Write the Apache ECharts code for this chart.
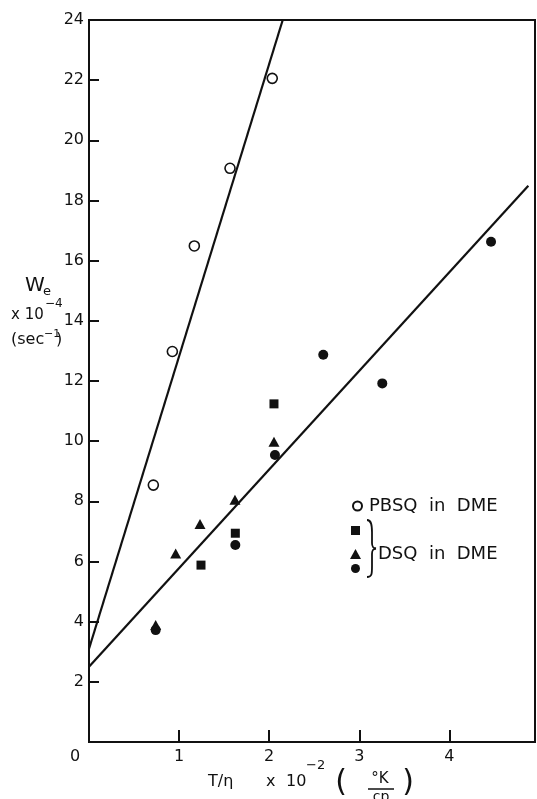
<!DOCTYPE html>
<html><head><meta charset="utf-8">
<script src="https://cdn.jsdelivr.net/npm/echarts@6/dist/echarts.min.js"></script>
<style>html,body{margin:0;padding:0;background:#fff}#c{width:537px;height:799px}</style>
</head><body><div id="c"></div>
<script>
// ---- data ----
const pbsqX = [0.714, 0.925, 1.169, 1.565, 2.034];
const pbsqY = [8.54, 12.98, 16.49, 19.07, 22.06];
const dsqSquareX = [1.243, 1.624, 2.053];
const dsqSquareY = [5.88, 6.94, 11.24];
const dsqTriangleX = [0.740, 0.962, 1.232, 1.620, 2.053];
const dsqTriangleY = [3.89, 6.27, 7.25, 8.05, 9.98];
const dsqCircleX = [0.740, 1.624, 2.064, 2.600, 3.255, 4.462];
const dsqCircleY = [3.72, 6.55, 9.54, 12.87, 11.92, 16.63];
const pbsqFitX = [0, 2.15];
const pbsqFitY = [3.1, 24];
const dsqFitX = [0, 4.876];
const dsqFitY = [2.5, 18.49];
const xTickValues = [0, 1, 2, 3, 4];
const xTickLabels = ['0', '1', '2', '3', '4'];
const yTickValues = [2, 4, 6, 8, 10, 12, 14, 16, 18, 20, 22, 24];
const yTickLabels = ['2', '4', '6', '8', '10', '12', '14', '16', '18', '20', '22', '24'];
const seriesNames = ['PBSQ in DME', 'DSQ in DME \u25A0', 'DSQ in DME', 'DSQ in DME \u25CF'];
const pbsqLegendText = 'PBSQ  in  DME';
const dsqLegendText = 'DSQ  in  DME';

const zip = (xs, ys) => xs.map((x, i) => [x, ys[i]]);
const FONT = '"DejaVu Sans", "Liberation Sans", sans-serif';
const INK = '#111';

function txt(x, y, text, size, align) {
  return {type: 'text', x: x, y: y, silent: true,
    style: {text: text, font: size + 'px ' + FONT, fill: INK,
      align: align || 'left', verticalAlign: 'middle',
      textAlign: align || 'left', textVerticalAlign: 'middle'}};
}
function bez(x1, y1, cx1, cy1, cx2, cy2, x2, y2) {
  return {type: 'bezierCurve', silent: true,
    shape: {x1: x1, y1: y1, cpx1: cx1, cpy1: cy1, cpx2: cx2, cpy2: cy2, x2: x2, y2: y2},
    style: {fill: null, stroke: INK, lineWidth: 1.8}};
}
function seg(x1, y1, x2, y2, w) {
  return {type: 'line', silent: true, shape: {x1: x1, y1: y1, x2: x2, y2: y2},
    style: {stroke: INK, lineWidth: w || 1.8}};
}

const chart = echarts.init(document.getElementById('c'), null, {renderer: 'canvas'});
chart.setOption({
  animation: false,
  backgroundColor: '#fff',
  grid: {left: 89, top: 20, width: 446, height: 722, show: true, borderColor: INK, borderWidth: 2, outerBoundsMode: 'none', containLabel: false},
  xAxis: {
    type: 'value', min: 0, max: 4.95, interval: 1,
    axisLine: {show: true, lineStyle: {color: INK, width: 2}},
    axisTick: {show: true, inside: true, length: 12, lineStyle: {color: INK, width: 2}},
    axisLabel: {
      margin: 7, color: INK, fontSize: 16, fontFamily: FONT,
      formatter: v => {
        const i = xTickValues.indexOf(v);
        if (i < 0) return '';
        return v === 0 ? '{z|' + xTickLabels[i] + '}' : xTickLabels[i];
      },
      rich: {z: {padding: [0, 28, 0, 0], fontSize: 16, fontFamily: FONT, color: INK}}
    },
    splitLine: {show: false}
  },
  yAxis: {
    type: 'value', min: 0, max: 24, interval: 2,
    axisLine: {show: true, lineStyle: {color: INK, width: 2}},
    axisTick: {show: true, inside: true, length: 10, lineStyle: {color: INK, width: 2}},
    axisLabel: {
      margin: 5, color: INK, fontSize: 16, fontFamily: FONT,
      formatter: v => {
        const i = yTickValues.indexOf(v);
        return i < 0 ? '' : yTickLabels[i];
      }
    },
    splitLine: {show: false}
  },
  legend: [
    {data: [seriesNames[0]], left: 352, top: 497, padding: 0, itemWidth: 9, itemHeight: 9,
     selectedMode: false, formatter: () => pbsqLegendText,
     textStyle: {fontSize: 18, fontFamily: FONT, color: INK, padding: [0, 0, 0, 2]}},
    {data: [seriesNames[1]], left: 351, top: 526, padding: 0, itemWidth: 9, itemHeight: 9,
     selectedMode: false, formatter: () => '', textStyle: {fontSize: 18, fontFamily: FONT, color: INK}},
    {data: [seriesNames[2]], left: 350, top: 545, padding: 0, itemWidth: 11, itemHeight: 10,
     selectedMode: false, formatter: () => dsqLegendText,
     textStyle: {fontSize: 18, fontFamily: FONT, color: INK, padding: [0, 0, 0, 12]}},
    {data: [seriesNames[3]], left: 351, top: 564, padding: 0, itemWidth: 9, itemHeight: 9,
     selectedMode: false, formatter: () => '', textStyle: {fontSize: 18, fontFamily: FONT, color: INK}}
  ],
  series: [
    {type: 'line', data: zip(pbsqFitX, pbsqFitY), symbol: 'none', silent: true, z: 2,
     lineStyle: {color: INK, width: 2.2}},
    {type: 'line', data: zip(dsqFitX, dsqFitY), symbol: 'none', silent: true, z: 2,
     lineStyle: {color: INK, width: 2.2}},
    {type: 'scatter', name: seriesNames[0], data: zip(pbsqX, pbsqY), symbol: 'circle', symbolSize: 10, z: 3,
     itemStyle: {color: '#fff', borderColor: INK, borderWidth: 1.6, opacity: 1}},
    {type: 'scatter', name: seriesNames[1], data: zip(dsqSquareX, dsqSquareY), symbol: 'rect', symbolSize: 9, z: 3,
     itemStyle: {color: INK, opacity: 1}},
    {type: 'scatter', name: seriesNames[2], data: zip(dsqTriangleX, dsqTriangleY), symbol: 'triangle', symbolSize: [11, 10], z: 3,
     itemStyle: {color: INK, opacity: 1}},
    {type: 'scatter', name: seriesNames[3], data: zip(dsqCircleX, dsqCircleY), symbol: 'circle', symbolSize: 10, z: 3,
     itemStyle: {color: INK, opacity: 1}}
  ],
  graphic: [
    // legend brace
    bez(367, 520, 371, 520, 372, 524, 372, 532),
    seg(372, 532, 372, 543),
    bez(372, 543, 372, 547, 373, 548, 376, 548.5),
    bez(376, 548.5, 373, 549, 372, 550, 372, 554),
    seg(372, 554, 372, 566),
    bez(372, 566, 372, 574, 372, 577, 367, 577),
    // y-axis title
    txt(35, 286, 'W', 20, 'center'),
    txt(43, 292, 'e', 13),
    txt(11, 315, 'x 10', 15),
    txt(45, 304, '\u22124', 12),
    txt(11, 340, '(sec', 16),
    txt(44, 334, '\u22121', 11),
    txt(56, 340, ')', 16),
    // x-axis title
    txt(208, 782, 'T/\u03B7', 16),
    txt(266, 782, 'x', 16),
    txt(286, 782, '10', 16),
    txt(306, 766, '\u22122', 13),
    txt(341, 783, '(', 30, 'center'),
    txt(380, 779, '\u00B0K', 15, 'center'),
    seg(368, 789, 394, 789, 1.5),
    txt(381, 797, 'cp', 14, 'center'),
    txt(408, 783, ')', 30, 'center')
  ]
});
</script>
</body></html>
